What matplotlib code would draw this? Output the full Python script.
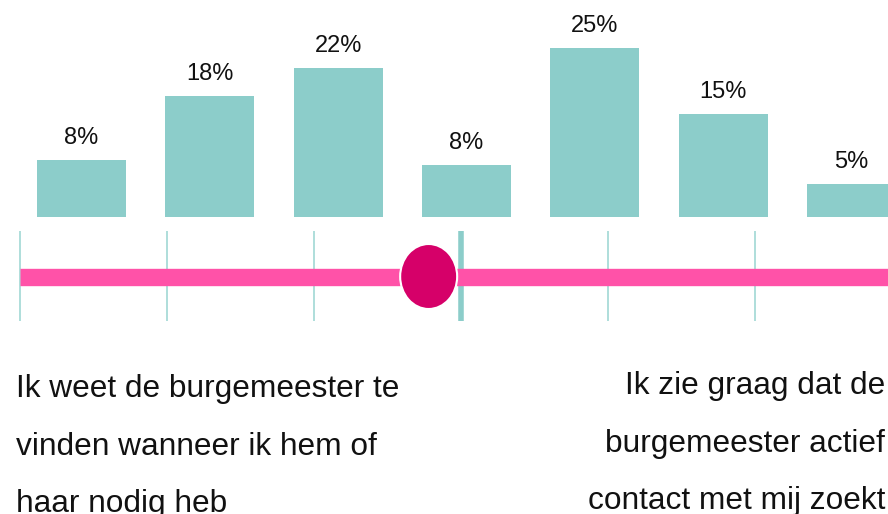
import matplotlib
matplotlib.use("Agg")
import matplotlib.pyplot as plt
from matplotlib.patches import Ellipse

plt.rcParams['font.family'] = ['Liberation Sans', 'DejaVu Sans']

# Bar data (share of respondents per scale point)
scale_points = [0, 1, 2, 3, 4, 5, 6]
shares = [8.4, 17.9, 22.0, 7.6, 25.0, 15.2, 4.9]
share_labels = ["8%", "18%", "22%", "8%", "25%", "15%", "5%"]

# Slider: scale ticks, midpoint and average score
slider_ticks = [0, 1, 2, 4, 5]
slider_mid = 3
slider_mean = 2.78

left_text = ["Ik weet de burgemeester te", "vinden wanneer ik hem of", "haar nodig heb"]
right_text = ["Ik zie graag dat de", "burgemeester actief", "contact met mij zoekt"]

TEAL = "#8ccdca"
TEAL_LIGHT = "#a8dbd8"
PINK = "#ff52a8"
MAGENTA = "#d60069"

W, H = 888, 514
fig = plt.figure(figsize=(W / 100, H / 100), dpi=100)
fig.patch.set_facecolor("white")

# --- bars ---
px_per_unit = 128.33
px_per_pct = 6.75
bar_base = 216.7  # px from top
ax = fig.add_axes([0, (H - bar_base) / H, 1, bar_base / H])
ax.bar(scale_points, shares, width=89 / px_per_unit, color=TEAL, edgecolor="none")
for x, v, lab in zip(scale_points, shares, share_labels):
    ax.annotate(lab, (x, v), xytext=(0, 16), textcoords="offset pixels",
                ha="center", va="baseline", fontsize=17, color="#111111")
ax.set_xlim(-81.5 / px_per_unit, (W - 81.5) / px_per_unit)
ax.set_ylim(0, bar_base / px_per_pct)
ax.axis("off")

# --- slider ---
top, bot = 220, 330
sx = fig.add_axes([0, (H - bot) / H, 1, (bot - top) / H])
px_per_step = 147
sx.set_xlim(-20 / px_per_step, (W - 20) / px_per_step)
sx.set_ylim(bot, top)  # pixel rows, top-down
sx.axis("off")

line_y = 276.5
for t in slider_ticks:
    sx.plot([t, t], [231, 321], color=TEAL_LIGHT, lw=1.3, solid_capstyle="butt", zorder=1)
sx.plot([slider_mid, slider_mid], [231, 321], color=TEAL, lw=4, solid_capstyle="butt", zorder=1)
sx.plot([0, 10], [line_y, line_y], color=PINK, lw=12.5, solid_capstyle="butt", zorder=2)
sx.add_patch(Ellipse((slider_mean, line_y), 57 / px_per_step, 65,
                     facecolor=MAGENTA, edgecolor="white", lw=1.5, zorder=3))

# --- captions ---
for i, line in enumerate(left_text):
    base = 397 + i * 57.6
    fig.text(16 / W, (H - base) / H, line, ha="left", va="baseline",
             fontsize=22.8, color="#111111")
for i, line in enumerate(right_text):
    base = 394 + i * 57.6
    fig.text(885 / W, (H - base) / H, line, ha="right", va="baseline",
             fontsize=22.8, color="#111111")

fig.savefig("out.png", dpi=100, facecolor="white")
